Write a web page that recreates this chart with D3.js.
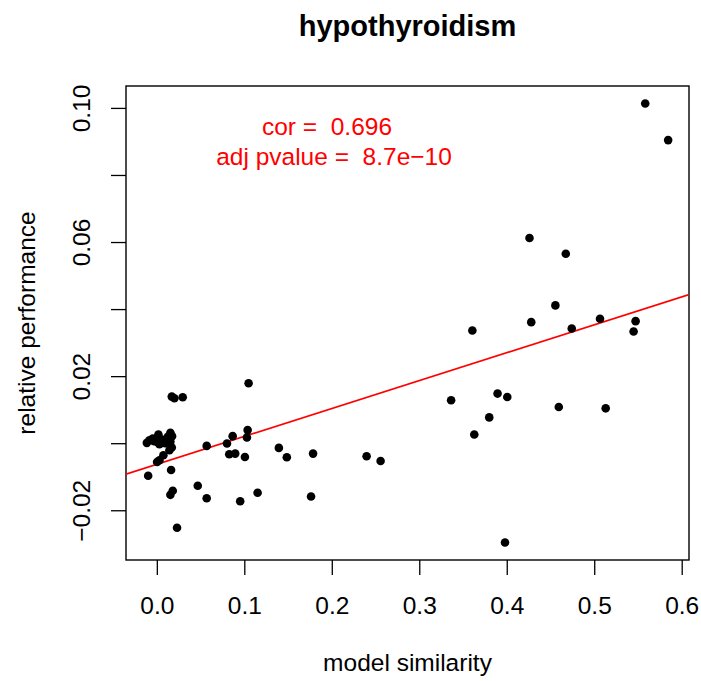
<!DOCTYPE html>
<html>
<head>
<meta charset="utf-8">
<script src="https://cdn.jsdelivr.net/npm/d3@7"></script>
<style>
  body { margin: 0; background: #fff; }
  svg text { font-family: "Liberation Sans", Arial, sans-serif; }
</style>
</head>
<body>
<div id="chart"></div>
<script>
// values
var simX = [
  0.426, 0.4675, 0.4556, 0.428, 0.3607, 0.4743, 0.5066, 0.5473, 0.545,
  0.3364, 0.3895, 0.4006, 0.380, 0.3629, 0.4595, 0.5131, 0.398, 0.5583, 0.5845,
  0.1049, 0.0171, 0.0201, 0.0296, 0.057, 0.0802, 0.0867, 0.0828, 0.0896, 0.1007,
  0.1038, 0.103, 0.0163, -0.0099, 0.0468, 0.057, 0.0182, 0.0155, 0.1152, 0.0953,
  0.0231, 0.1395, 0.1486, 0.1786, 0.2398, 0.2558, 0.1763,
  -0.0084, -0.0114, -0.0046, 0.0018, 0.0003, 0.003, 0.0155, 0.0125, 0.0155,
  0.0171, 0.0144, 0.0075, 0.003, 0.0003, -0.003, 0.0049, 0.0095, 0.0174
];
var perfY = [
  0.0612, 0.0565, 0.0411, 0.0361, 0.0336, 0.0342, 0.0371, 0.0364, 0.0333,
  0.0128, 0.0148, 0.0138, 0.0077, 0.0026, 0.0108, 0.0104, -0.0296, 0.1013, 0.0904,
  0.0179, 0.0139, 0.0134, 0.0137, -0.0008, -0.0001, 0.0021, -0.0033, -0.0031, -0.0041,
  0.0039, 0.0017, -0.008, -0.0097, -0.0127, -0.0164, -0.0142, -0.0154, -0.0148, -0.0173,
  -0.0252, -0.0014, -0.0042, -0.0031, -0.0039, -0.0053, -0.0159,
  0.0009, 0.0001, 0.0014, 0.0026, 0.0004, -0.0003, 0.0031, 0.0019, 0.0004,
  -0.0013, -0.0021, -0.0036, -0.0051, -0.0056, 0.0006, 0.0012, 0.0000, 0.0021
];
var xTicks = [0, 0.1, 0.2, 0.3, 0.4, 0.5, 0.6];
var xTickLabels = ["0.0", "0.1", "0.2", "0.3", "0.4", "0.5", "0.6"];
var yTicks = [-0.02, 0, 0.02, 0.04, 0.06, 0.08, 0.10];
var yTickLabels = ["\u22120.02", "", "0.02", "", "0.06", "", "0.10"];
var fitLine = [-0.0063, 0.0832]; // intercept, slope
var statLines = ["cor =  0.696", "adj pvalue =  8.7e\u221210"];

var svgWidth = 701;
var svgHeight = 681;
var box = {left: 126, right: 689, top: 86, bottom: 560};
var fontSize = 24.5;

var svg = d3.select("#chart")
    .append("svg")
    .attr("width", svgWidth)
    .attr("height", svgHeight);

var points = simX.map(function (x, i) { return {x: x, y: perfY[i]}; });

// R style 4% padding on the data range
function padded(ext) {
    var r = ext[1] - ext[0];
    return [ext[0] - 0.04 * r, ext[1] + 0.04 * r];
}

var xScale = d3.scaleLinear()
    .domain(padded(d3.extent(simX)))
    .range([box.left, box.right]);
var yScale = d3.scaleLinear()
    .domain(padded(d3.extent(perfY)))
    .range([box.bottom, box.top]);

var bottomAxis = d3.axisBottom(xScale)
    .tickValues(xTicks)
    .tickSize(15)
    .tickFormat(function (d, i) { return xTickLabels[i]; });

var leftAxis = d3.axisLeft(yScale)
    .tickValues(yTicks)
    .tickSize(15)
    .tickFormat(function (d, i) { return yTickLabels[i]; });

var xAxisG = svg.append("g")
    .attr("transform", `translate(0, ${box.bottom})`)
    .call(bottomAxis);
xAxisG.select(".domain").remove();
xAxisG.selectAll("line").attr("stroke", "#000").attr("stroke-width", 1.3);
xAxisG.selectAll("text")
    .attr("font-size", fontSize)
    .attr("font-family", "Liberation Sans, Arial, sans-serif")
    .attr("fill", "#000")
    .attr("dy", null)
    .attr("y", 54);

var yAxisG = svg.append("g")
    .attr("transform", `translate(${box.left}, 0)`)
    .call(leftAxis);
yAxisG.select(".domain").remove();
yAxisG.selectAll("line").attr("stroke", "#000").attr("stroke-width", 1.3);
yAxisG.selectAll("text")
    .attr("font-size", fontSize)
    .attr("font-family", "Liberation Sans, Arial, sans-serif")
    .attr("fill", "#000")
    .attr("x", null)
    .attr("dy", null)
    .attr("text-anchor", "middle")
    .attr("transform", "translate(-36, 0) rotate(-90)");

// plot box
svg.append("rect")
    .attr("x", box.left)
    .attr("y", box.top)
    .attr("width", box.right - box.left)
    .attr("height", box.bottom - box.top)
    .attr("fill", "none")
    .attr("stroke", "#000")
    .attr("stroke-width", 1.4);

svg.append("clipPath")
    .attr("id", "plotclip")
    .append("rect")
    .attr("x", box.left)
    .attr("y", box.top)
    .attr("width", box.right - box.left)
    .attr("height", box.bottom - box.top);

// fitted line across the whole box
var xd = xScale.domain();
svg.append("line")
    .attr("clip-path", "url(#plotclip)")
    .attr("x1", xScale(xd[0]))
    .attr("y1", yScale(fitLine[0] + fitLine[1] * xd[0]))
    .attr("x2", xScale(xd[1]))
    .attr("y2", yScale(fitLine[0] + fitLine[1] * xd[1]))
    .attr("stroke", "#ff0000")
    .attr("stroke-width", 1.6);

svg.append("g")
    .selectAll("circle")
    .data(points)
    .enter()
    .append("circle")
    .attr("cx", d => xScale(d.x))
    .attr("cy", d => yScale(d.y))
    .attr("r", 4.3)
    .attr("fill", "#000");

// stats text
svg.append("text")
    .attr("x", 327)
    .attr("y", 135)
    .attr("text-anchor", "middle")
    .attr("font-size", fontSize)
    .attr("fill", "#ff0000")
    .style("white-space", "pre")
    .text(statLines[0]);
svg.append("text")
    .attr("x", 334)
    .attr("y", 165)
    .attr("text-anchor", "middle")
    .attr("font-size", fontSize)
    .attr("fill", "#ff0000")
    .style("white-space", "pre")
    .text(statLines[1]);

svg.append("text")
    .attr("x", (box.left + box.right) / 2)
    .attr("y", 36)
    .attr("text-anchor", "middle")
    .attr("font-size", 29)
    .attr("font-weight", "bold")
    .text("hypothyroidism");

svg.append("text")
    .attr("x", (box.left + box.right) / 2)
    .attr("y", 671)
    .attr("text-anchor", "middle")
    .attr("font-size", fontSize)
    .text("model similarity");

svg.append("text")
    .attr("transform", `translate(35, ${(box.top + box.bottom) / 2}) rotate(-90)`)
    .attr("text-anchor", "middle")
    .attr("font-size", fontSize)
    .text("relative performance");
</script>
</body>
</html>
